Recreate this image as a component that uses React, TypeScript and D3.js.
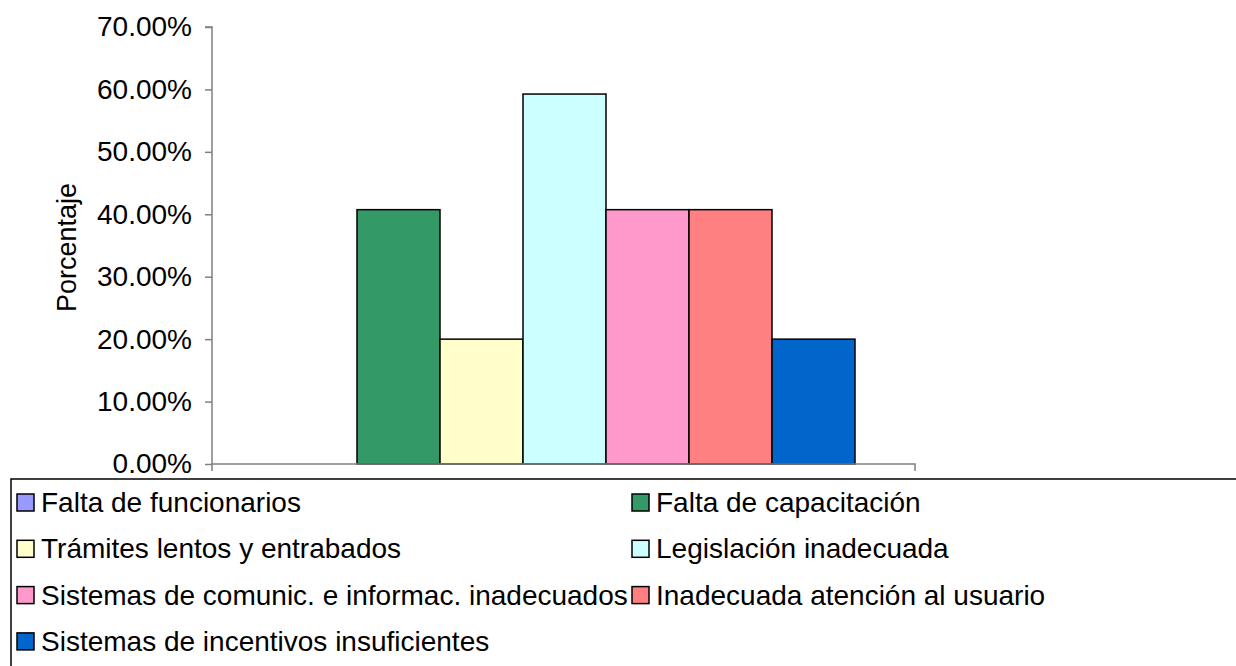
import React, { useEffect, useRef } from "react";
import * as d3 from "d3";

const seriesNames = [
  "Falta de funcionarios",
  "Falta de capacitación",
  "Trámites lentos y entrabados",
  "Legislación inadecuada",
  "Sistemas de comunic. e informac. inadecuados",
  "Inadecuada atención al usuario",
  "Sistemas de incentivos insuficientes",
];
const seriesValues = [0, 0.4074, 0.2, 0.5926, 0.4074, 0.4074, 0.2];
const seriesColors = ["#9999FF", "#339966", "#FFFFCC", "#CCFFFF", "#FF99CC", "#FF8080", "#0066CC"];
const categories = ["Problema"];
const yTicks = [0, 0.1, 0.2, 0.3, 0.4, 0.5, 0.6, 0.7];

const App: React.FC = () => {
  const svgRef = useRef<SVGSVGElement>(null);

  useEffect(() => {
    const svg = d3.select(svgRef.current);
    svg.selectAll("*").remove();
    const font = "'Liberation Sans', Arial, sans-serif";

    const margin = { left: 212, right: 321, top: 27, bottom: 202 };
    const width = 1236, height = 666;
    const innerW = width - margin.left - margin.right;
    const innerH = height - margin.top - margin.bottom;

    const y = d3.scaleLinear().domain([0, 0.7]).range([innerH, 0]);
    const x0 = d3.scaleBand().domain(categories).range([0, innerW]).paddingInner(0).paddingOuter(0);
    const x1 = d3
      .scaleBand()
      .domain(seriesNames)
      .range([62, x0.bandwidth() - 60]);

    const g = svg.append("g").attr("transform", `translate(${margin.left},${margin.top})`);

    // bars
    categories.forEach((c) => {
      seriesNames.forEach((s, i) => {
        const v = seriesValues[i];
        if (v <= 0) return;
        g.append("rect")
          .attr("x", (x0(c) ?? 0) + (x1(s) ?? 0))
          .attr("y", y(v))
          .attr("width", x1.bandwidth())
          .attr("height", innerH - y(v))
          .attr("fill", seriesColors[i])
          .attr("stroke", "#000")
          .attr("stroke-width", 1.5);
      });
    });

    // y axis
    const yAxis = d3
      .axisLeft(y)
      .tickValues(yTicks)
      .tickFormat(d3.format(".2%"))
      .tickSize(7)
      .tickPadding(13);
    const ya = g.append("g").call(yAxis);
    ya.selectAll("path, line").attr("stroke", "#808080").attr("stroke-width", 1.5);
    ya.select(".domain").attr("d", `M-7,0H0V${innerH}`);
    ya.selectAll("text").attr("font-family", font).attr("font-size", 28).attr("fill", "#000");

    // x axis
    const xa = g.append("g").attr("transform", `translate(0,${innerH})`);
    xa.append("path")
      .attr("d", `M0,7V0H${innerW}V7`)
      .attr("fill", "none")
      .attr("stroke", "#808080")
      .attr("stroke-width", 1.5);

    // y title
    svg
      .append("text")
      .attr("transform", `translate(76,${margin.top + innerH / 2 + 2}) rotate(-90)`)
      .attr("text-anchor", "middle")
      .attr("font-family", font)
      .attr("font-size", 27)
      .text("Porcentaje");

    // legend
    const legend = svg.append("g");
    legend
      .append("path")
      .attr("d", `M11,${height + 5}V479H${width + 5}`)
      .attr("fill", "none")
      .attr("stroke", "#000")
      .attr("stroke-width", 1.5);
    const colX = [17, 632];
    seriesNames.forEach((s, i) => {
      const cx = colX[i % 2];
      const cy = 502 + Math.floor(i / 2) * 46.3;
      legend
        .append("rect")
        .attr("x", cx)
        .attr("y", cy - 8)
        .attr("width", 17)
        .attr("height", 17)
        .attr("fill", seriesColors[i])
        .attr("stroke", "#000")
        .attr("stroke-width", 1.5);
      legend
        .append("text")
        .attr("x", cx + 24)
        .attr("y", cy)
        .attr("dy", "0.36em")
        .attr("font-family", font)
        .attr("font-size", 28)
        .text(s);
    });
  }, []);

  return (
    <svg
      ref={svgRef}
      width={1236}
      height={666}
      style={{ position: "absolute", left: 0, top: 0, background: "#fff" }}
    />
  );
};

export default App;
